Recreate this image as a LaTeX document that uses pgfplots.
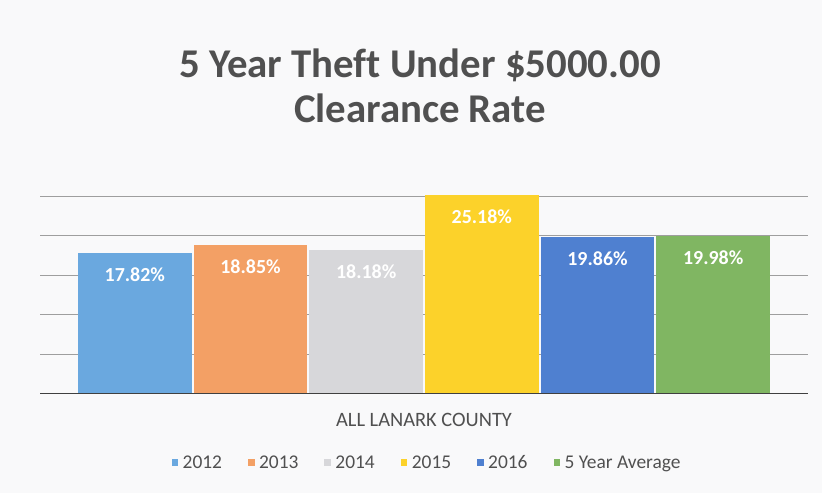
\documentclass[border=0pt]{standalone}
\usepackage{pgfplots}
\pgfplotsset{compat=1.18}
\usepackage{fontspec}
\setmainfont{Carlito}[Ligatures=CommonOff]
\definecolor{bgcol}{HTML}{F9F9FA}
\definecolor{titlecol}{HTML}{505050}
\definecolor{c2012}{HTML}{6AA8DF}
\definecolor{c2013}{HTML}{F3A065}
\definecolor{c2014}{HTML}{D7D7DA}
\definecolor{c2015}{HTML}{FCD22A}
\definecolor{c2016}{HTML}{4F80D0}
\definecolor{cavg}{HTML}{80B662}
\begin{document}
\begin{tikzpicture}[x=1bp,y=1bp]
\fill[bgcol] (0,0) rectangle (822,493);
\node[font=\fontsize{41}{45}\selectfont\bfseries, text=titlecol, anchor=base] at (420,415) {5 Year Theft Under \$5000.00};
\node[font=\fontsize{41}{45}\selectfont\bfseries, text=titlecol, anchor=base] at (420,370) {Clearance Rate};
\node[font=\fontsize{20.5}{22}\selectfont, text=titlecol] at (424,73) {ALL LANARK COUNTY};
\begin{axis}[
  at={(40bp,99bp)}, anchor=south west,
  scale only axis, width=768bp, height=202bp,
  xmin=-0.82, xmax=5.82, ymin=0, ymax=25.5,
  axis line style={draw=none},
  xtick=\empty, ytick={5,10,15,20,25}, yticklabels={},
  major tick length=0pt,
  ymajorgrids, grid style={black!38, line width=0.8pt},
  ybar, bar width=0.985, bar shift=0pt,
  /pgf/number format/assume math mode=true,
  nodes near coords={\pgfmathprintnumber[fixed,precision=2,fixed zerofill]{\pgfplotspointmeta}\%},
  every node near coord/.append style={anchor=north, inner sep=0pt, yshift=-15bp, text=white, font=\fontsize{20}{22}\selectfont\bfseries},
  legend columns=6,
  legend style={at={(0.504,-0.34)}, anchor=center, draw=none, fill=none,
    font=\fontsize{19.5}{21}\selectfont, text=titlecol,
    /tikz/every even column/.append style={column sep=24bp}},
  legend image code/.code={\fill[#1] (0bp,-3bp) rectangle (6.5bp,3.5bp); \path (9bp,0bp);},
]
\addplot[fill=c2012, draw=none] coordinates {(0,17.82)}; \addlegendentry{2012}
\addplot[fill=c2013, draw=none] coordinates {(1,18.85)}; \addlegendentry{2013}
\addplot[fill=c2014, draw=none] coordinates {(2,18.18)}; \addlegendentry{2014}
\addplot[fill=c2015, draw=none] coordinates {(3,25.18)}; \addlegendentry{2015}
\addplot[fill=c2016, draw=none] coordinates {(4,19.86)}; \addlegendentry{2016}
\addplot[fill=cavg, draw=none] coordinates {(5,19.98)}; \addlegendentry{5 Year Average}
\draw[black!75, line width=1.6pt] (axis cs:-0.82,0) -- (axis cs:5.82,0);
\end{axis}
\end{tikzpicture}
\end{document}
